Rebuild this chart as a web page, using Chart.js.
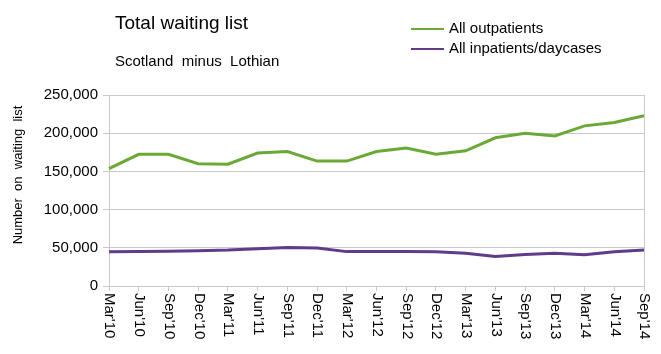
<!DOCTYPE html>
<html>
<head>
<meta charset="utf-8">
<script src="https://cdn.jsdelivr.net/npm/chart.js@4/dist/chart.umd.min.js"></script>
<style>
html,body{margin:0;padding:0;background:#fff;}
#wrap{width:661px;height:354px;position:relative;}
</style>
</head>
<body>
<div id="wrap"><canvas id="c" width="661" height="354"></canvas></div>
<script>
const chartTitle = "Total waiting list";
const chartSubtitle = "Scotland  minus  Lothian";
const yAxisTitle = "Number  on  waiting  list";
const categories = ["Mar'10","Jun'10","Sep'10","Dec'10","Mar'11","Jun'11","Sep'11","Dec'11","Mar'12","Jun'12","Sep'12","Dec'12","Mar'13","Jun'13","Sep'13","Dec'13","Mar'14","Jun'14","Sep'14"];
const seriesNames = ["All outpatients","All inpatients/daycases"];
const outpatients = [153600,172400,172400,160000,159500,174000,176000,163500,163500,176000,180700,172400,177000,194000,200000,196500,209600,214000,222800];
const inpatients = [44700,45200,45500,46300,47000,48800,50400,49600,45000,45000,45000,44800,43000,38600,41200,43000,40800,44700,47000];
const yTicks = [0,50000,100000,150000,200000,250000];

const GREEN = '#6aa936';
const PURPLE = '#5f3b8a';
const GRID = '#c9c9c9';
const FONT = '"Liberation Sans", Arial, Helvetica, sans-serif';

const decorations = {
  id: 'decorations',
  afterDraw(chart) {
    const ctx = chart.ctx;
    const area = chart.chartArea;
    const xs = chart.scales.x;
    ctx.save();
    // right border of plot
    ctx.strokeStyle = GRID;
    ctx.lineWidth = 1;
    ctx.beginPath();
    ctx.moveTo(Math.round(area.right) + 0.5, area.top);
    ctx.lineTo(Math.round(area.right) + 0.5, area.bottom);
    ctx.stroke();

    ctx.fillStyle = '#000';
    // title
    ctx.textAlign = 'left';
    ctx.textBaseline = 'alphabetic';
    ctx.font = '19px ' + FONT;
    ctx.fillText(chartTitle, 115, 29);
    ctx.font = '15px ' + FONT;
    ctx.fillText(chartSubtitle, 115, 66);

    // legend
    const colors = [GREEN, PURPLE];
    seriesNames.forEach((name, i) => {
      const y = 29 + i * 20;
      ctx.strokeStyle = colors[i];
      ctx.lineWidth = 2;
      ctx.beginPath();
      ctx.moveTo(411, y);
      ctx.lineTo(444, y);
      ctx.stroke();
      ctx.fillStyle = '#000';
      ctx.font = '15px ' + FONT;
      ctx.textBaseline = 'middle';
      ctx.fillText(name, 449, y);
    });

    // y axis title
    ctx.save();
    ctx.translate(18, 175);
    ctx.rotate(-Math.PI / 2);
    ctx.textAlign = 'center';
    ctx.textBaseline = 'middle';
    ctx.font = '13px ' + FONT;
    ctx.fillText(yAxisTitle, 0, 0);
    ctx.restore();

    // x tick labels, rotated clockwise
    ctx.font = '15px ' + FONT;
    categories.forEach((lab, i) => {
      const x = xs.getPixelForTick(i);
      ctx.save();
      ctx.translate(x + 0.5, area.bottom + 7);
      ctx.rotate(Math.PI / 2);
      ctx.textAlign = 'left';
      ctx.textBaseline = 'middle';
      ctx.fillText(lab, 0, 0);
      ctx.restore();
    });
    ctx.restore();
  }
};

new Chart(document.getElementById('c'), {
  type: 'line',
  data: {
    labels: categories,
    datasets: [
      { label: seriesNames[0], data: outpatients, borderColor: GREEN, backgroundColor: GREEN, borderWidth: 3, pointRadius: 0, tension: 0, fill: false },
      { label: seriesNames[1], data: inpatients, borderColor: PURPLE, backgroundColor: PURPLE, borderWidth: 3, pointRadius: 0, tension: 0, fill: false }
    ]
  },
  options: {
    responsive: false,
    animation: false,
    events: [],
    layout: { padding: { top: 95, right: 17, left: 0, bottom: 0 } },
    plugins: { legend: { display: false }, title: { display: false }, tooltip: { enabled: false } },
    scales: {
      x: {
        offset: false,
        grid: { display: true, drawOnChartArea: false, drawTicks: true, tickLength: 5, color: GRID },
        border: { display: true, color: GRID },
        ticks: { display: false },
        afterFit(scale) { scale.height = 68; }
      },
      y: {
        min: 0, max: 250000,
        afterBuildTicks(scale) { scale.ticks = yTicks.map(v => ({ value: v })); },
        grid: { color: GRID, drawTicks: true, tickLength: 6 },
        border: { display: true, color: GRID },
        ticks: {
          padding: 5,
          color: '#000',
          font: { family: FONT, size: 15 },
          callback: v => v.toLocaleString('en-US')
        },
        afterFit(scale) { scale.width = 109; }
      }
    }
  },
  plugins: [decorations]
});
</script>
</body>
</html>
